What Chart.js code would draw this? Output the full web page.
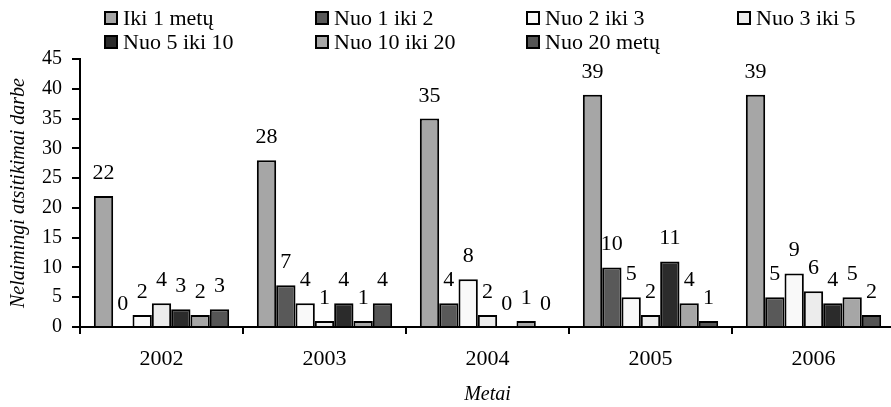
<!DOCTYPE html>
<html>
<head>
<meta charset="utf-8">
<script src="https://cdn.jsdelivr.net/npm/chart.js@4.4.1/dist/chart.umd.min.js"></script>
<style>
  html, body { margin: 0; padding: 0; background: #fff; overflow: hidden; }
  #wrap { position: relative; width: 900px; height: 407px; }
</style>
</head>
<body>
<div id="wrap"><canvas id="c"></canvas></div>
<script>
// Years on the x axis
const years = ['2002', '2003', '2004', '2005', '2006'];

// Work-experience groups (legend order)
const groupNames = ['Iki 1 metų', 'Nuo 1 iki 2', 'Nuo 2 iki 3', 'Nuo 3 iki 5',
                    'Nuo 5 iki 10', 'Nuo 10 iki 20', 'Nuo 20 metų'];

// Accidents at work per group, one value per year
const iki1       = [22, 28, 35, 39, 39];
const nuo1iki2   = [0, 7, 4, 10, 5];
const nuo2iki3   = [2, 4, 8, 5, 9];
const nuo3iki5   = [4, 1, 2, 2, 6];
const nuo5iki10  = [3, 4, 0, 11, 4];
const nuo10iki20 = [2, 1, 1, 4, 5];
const nuo20      = [3, 4, 0, 1, 2];

// Y axis tick values
const yTicks = [0, 5, 10, 15, 20, 25, 30, 35, 40, 45];

const seriesValues = [iki1, nuo1iki2, nuo2iki3, nuo3iki5, nuo5iki10, nuo10iki20, nuo20];
const fills = ['#a6a6a6', '#595959', '#f9f9f9', '#ececec', '#2b2b2b', '#a6a6a6', '#555555'];

const FONT = '"Liberation Serif", "Times New Roman", serif';

// Value written above every bar
const valueLabels = {
  id: 'valueLabels',
  afterDatasetsDraw(chart) {
    const ctx = chart.ctx;
    ctx.save();
    ctx.font = '22px ' + FONT;
    ctx.fillStyle = '#000';
    ctx.textAlign = 'center';
    ctx.textBaseline = 'alphabetic';
    chart.data.datasets.forEach((ds, i) => {
      chart.getDatasetMeta(i).data.forEach((bar, j) => {
        ctx.fillText(String(ds.data[j]), bar.x, bar.y - 17);
      });
    });
    ctx.restore();
  }
};

// Legend laid out on a fixed four-column grid
const gridLegend = {
  id: 'gridLegend',
  afterDraw(chart) {
    const ctx = chart.ctx;
    const colX = [104, 315, 526, 737];
    const rowY = [18, 42];
    ctx.save();
    ctx.font = '22px ' + FONT;
    ctx.textBaseline = 'middle';
    ctx.textAlign = 'left';
    chart.data.datasets.forEach((ds, i) => {
      const x = colX[i % 4];
      const y = rowY[Math.floor(i / 4)];
      ctx.fillStyle = ds.backgroundColor;
      ctx.fillRect(x + 1, y - 6, 12, 12);
      ctx.lineWidth = 2;
      ctx.strokeStyle = '#000';
      ctx.strokeRect(x + 1, y - 6, 12, 12);
      ctx.fillStyle = '#000';
      ctx.fillText(ds.label, x + 19, y + 1);
    });
    ctx.restore();
  }
};

new Chart(document.getElementById('c'), {
  type: 'bar',
  data: {
    labels: years,
    datasets: groupNames.map((name, i) => ({
      label: name,
      data: seriesValues[i],
      backgroundColor: fills[i],
      borderColor: '#000',
      borderWidth: 2,
      borderSkipped: 'bottom'
    }))
  },
  options: {
    responsive: true,
    maintainAspectRatio: false,
    animation: false,
    devicePixelRatio: 1,
    layout: { padding: { top: 59, right: 5, bottom: 0, left: 0 } },
    datasets: { bar: { barPercentage: 1.0, categoryPercentage: 0.83 } },
    plugins: {
      legend: { display: false },
      tooltip: { enabled: false }
    },
    scales: {
      x: {
        grid: { display: true, drawOnChartArea: false, offset: true, color: '#000', lineWidth: 2, tickLength: 7 },
        border: { display: true, color: '#000', width: 2 },
        ticks: { color: '#000', font: { family: FONT, size: 22 }, padding: 12, maxRotation: 0 },
        title: { display: true, text: 'Metai', color: '#000', font: { family: FONT, size: 20, style: 'italic' }, padding: { top: 8, bottom: 0 } },
        afterFit(scale) { scale.height = 80; }
      },
      y: {
        min: 0, max: 45,
        afterBuildTicks(scale) { scale.ticks = yTicks.map(v => ({ value: v })); },
        grid: { display: true, drawOnChartArea: false, color: '#000', lineWidth: 2, tickLength: 8 },
        border: { display: true, color: '#000', width: 2 },
        ticks: { color: '#000', font: { family: FONT, size: 20 }, padding: 10 },
        title: { display: true, text: 'Nelaimingi atsitikimai darbe', color: '#000', font: { family: FONT, size: 20, style: 'italic' }, padding: { top: 7, bottom: 0 } },
        afterFit(scale) { scale.width = 80; }
      }
    }
  },
  plugins: [valueLabels, gridLegend]
});
</script>
</body>
</html>
